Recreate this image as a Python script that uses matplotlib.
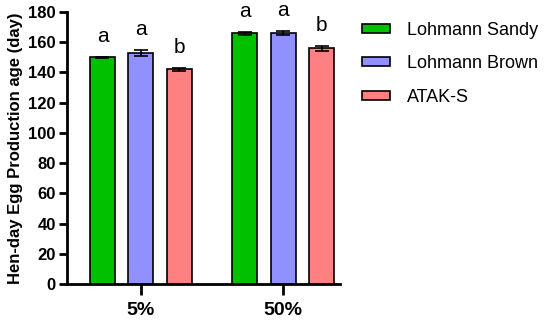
import matplotlib.pyplot as plt
import numpy as np

plt.rcParams['font.family'] = ['Liberation Sans', 'DejaVu Sans']

groups = ['5%', '50%']
breeds = ['Lohmann Sandy', 'Lohmann Brown', 'ATAK-S']
means = [[150, 166], [153, 166], [142, 156]]
errors = [[0.5, 1.0], [2.0, 1.5], [1.0, 1.5]]
letters = [['a', 'a'], ['a', 'a'], ['b', 'b']]
colors = ['#00C000', '#9090FF', '#FF8080']

fig = plt.figure(figsize=(5.5, 3.24), dpi=100)
ax = fig.add_axes([0.122, 0.123, 0.496, 0.84])

x = np.arange(len(groups))
offsets = [-0.271, 0, 0.271]
width = 0.176

for i in range(len(breeds)):
    pos = x + offsets[i]
    ax.bar(pos, means[i], width, color=colors[i], edgecolor='black',
           linewidth=1.2, label=breeds[i])
    ax.errorbar(pos, means[i], yerr=errors[i], fmt='none', ecolor='black',
                elinewidth=1.2, capsize=5, capthick=1.2)
    for j in range(len(groups)):
        ax.text(pos[j], means[i][j] + errors[i][j] + 7, letters[i][j],
                ha='center', va='bottom', fontsize=15)

ax.set_xlim(-0.52, 1.40)
ax.set_ylim(0, 180)
ax.set_yticks(range(0, 181, 20))
ax.set_xticks(x)
ax.set_xticklabels(groups, fontsize=14, fontweight='bold')
for lab in ax.get_yticklabels():
    lab.set_fontweight('bold')
    lab.set_fontsize(12)
ax.set_ylabel('Hen-day Egg Production age (day)', fontsize=12, fontweight='bold')

ax.spines['top'].set_visible(False)
ax.spines['right'].set_visible(False)
ax.spines['left'].set_linewidth(2)
ax.spines['bottom'].set_linewidth(2)
ax.tick_params(axis='y', width=2, length=6, pad=2)
ax.tick_params(axis='x', width=2, length=8, pad=5)

fig.legend(loc='upper left', bbox_to_anchor=(0.658, 0.932), frameon=False,
           fontsize=13, handlelength=1.55, handleheight=0.4,
           handletextpad=0.95, labelspacing=0.9, borderpad=0, borderaxespad=0)

fig.savefig('out.png', dpi=100)
